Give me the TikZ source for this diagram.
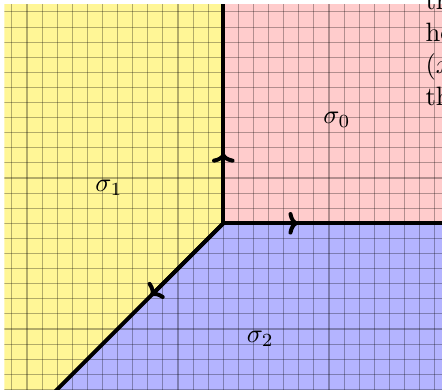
\documentclass[tikz,border=0pt]{standalone}
\usetikzlibrary{arrows.meta}
\definecolor{cyel}{RGB}{255,246,150}
\definecolor{cpink}{RGB}{255,204,204}
\definecolor{cblue}{RGB}{180,180,255}
\tikzset{
  ray/.style={line width=1.5pt, black},
  rayarrow/.style={line width=1.5pt, black, -{To[length=3.6pt,width=8.5pt]}},
  gridline/.style={black, opacity=0.3, line width=0.4pt},
  lab/.style={inner sep=1pt},
  bodytext/.style={anchor=base west, inner sep=0pt},
}
\begin{document}
\begin{tikzpicture}
\useasboundingbox (-2.958,-2.208) rectangle (2.897,2.958);
\clip (-2.958,-2.208) rectangle (2.897,2.958);
\coordinate (O) at (0,0);
\coordinate (N) at (0,3);
\coordinate (E) at (3,0);
\coordinate (SW) at (-3,-3);
\coordinate (aN) at (0,0.93);
\coordinate (aE) at (0.99,0);
\coordinate (aSW) at (-0.96,-0.96);
\begin{scope}
  \clip (-2.9,-2.9) rectangle (2.9,2.9);
  \fill[cpink] (O) -- (E) -- (3,3) -- (N) -- cycle;
  \fill[cyel] (O) -- (N) -- (-3,3) -- (SW) -- cycle;
  \fill[cblue] (O) -- (SW) -- (3,-3) -- (E) -- cycle;
  \foreach \i in {-14,...,14} {
    \draw[gridline] (\i*0.2,-2.9) -- (\i*0.2,2.9);
    \draw[gridline] (-2.9,\i*0.2) -- (2.9,\i*0.2);
  }
  \draw[ray] (O) -- (N);
  \draw[ray] (O) -- (E);
  \draw[ray] (O) -- (SW);
  \draw[rayarrow] (O) -- (aN);
  \draw[rayarrow] (O) -- (aE);
  \draw[rayarrow] (O) -- (aSW);
\end{scope}
\node[lab] (s0) at (1.506,1.368) {$\sigma_0$};
\node[lab] (s1) at (-1.514,0.468) {$\sigma_1$};
\node[lab] (s2) at (0.49,-1.53) {$\sigma_2$};
\node[bodytext] (t1) at (2.672,2.832) {th};
\node[bodytext] (t2) at (2.672,2.408) {he};
\node[bodytext] (t3) at (2.672,1.984) {($x$};
\node[bodytext] (t4) at (2.672,1.560) {th};
\end{tikzpicture}
\end{document}
